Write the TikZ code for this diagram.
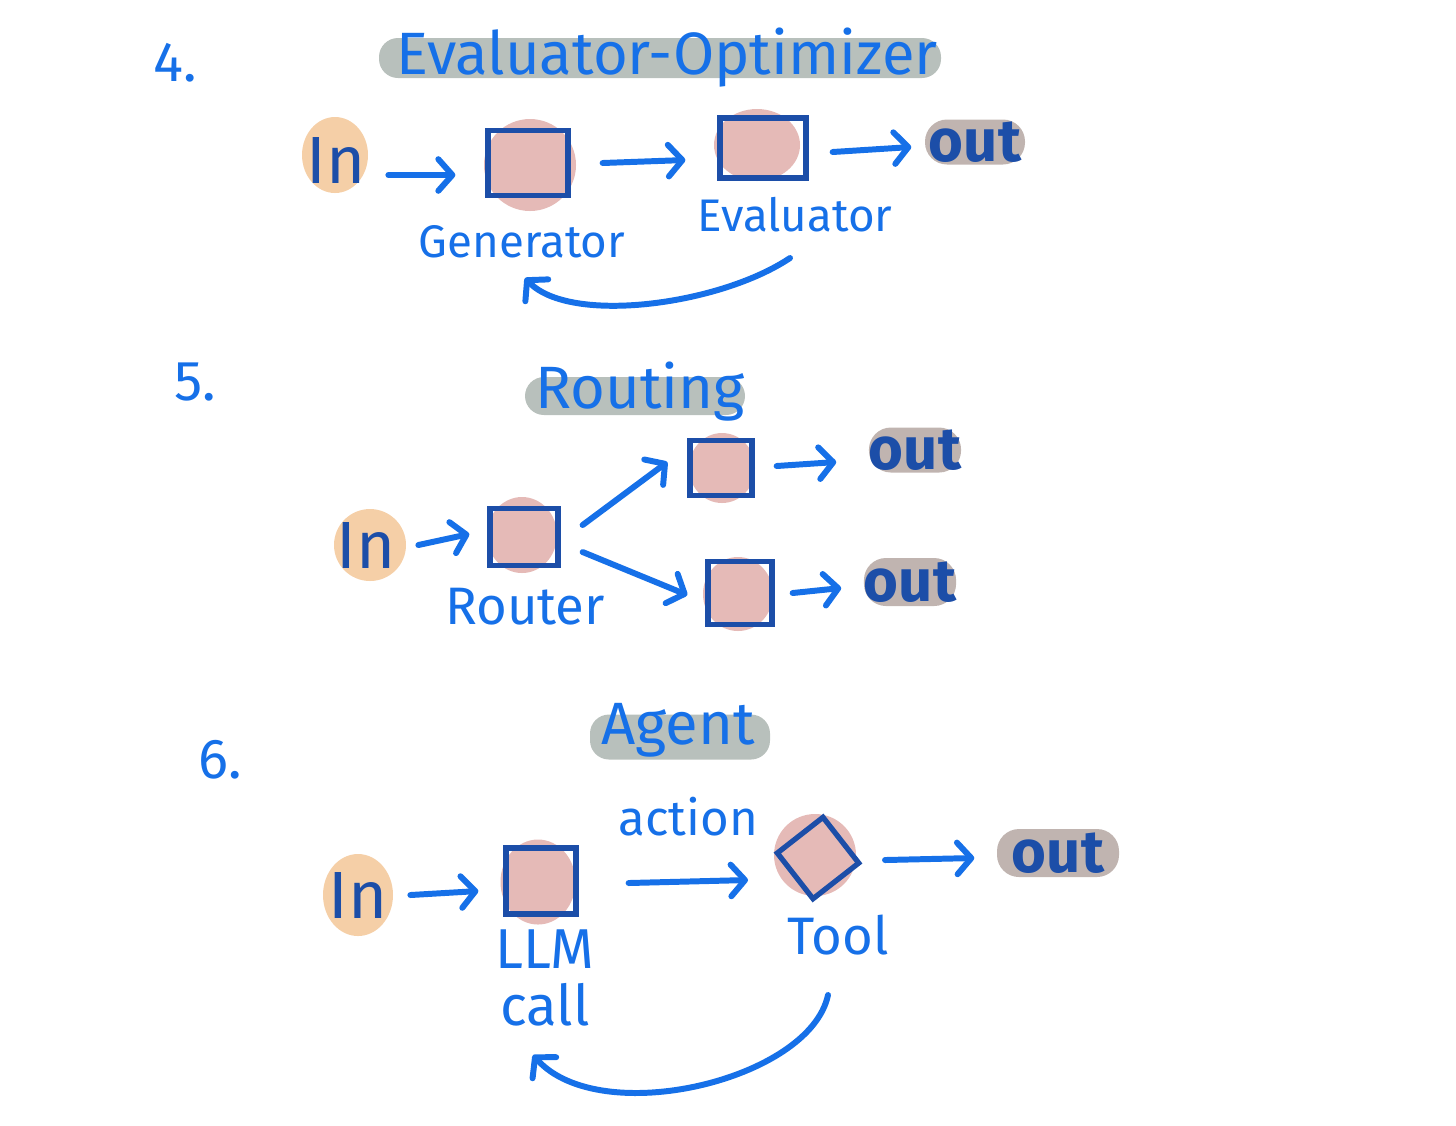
\documentclass[tikz,border=0pt]{standalone}
\usepackage{fontspec}
\setmainfont{Fira Sans}
\usepackage{tikz}
\usetikzlibrary{
  positioning,
  shapes.geometric,
  arrows.meta
}
\definecolor{penblue}{RGB}{22,112,232}
\definecolor{inkblue}{RGB}{28,78,168}
\definecolor{blobpink}{RGB}{229,186,183}
\definecolor{bloborange}{RGB}{245,207,167}
\definecolor{pillgray}{RGB}{184,192,188}
\definecolor{outgray}{RGB}{192,180,176}

\begin{document}
\begin{tikzpicture}[
    font=\sffamily,
    % Blob and box styles
    blob/.style={ellipse, fill=blobpink, draw=none, inner sep=0pt},
    inblob/.style={ellipse, fill=bloborange, draw=none, inner sep=0pt},
    sq/.style={rectangle, draw=inkblue, line width=1.5pt, inner sep=0pt},
    % Text styles
    title/.style={text=penblue, font=\fontsize{17}{20}\selectfont, inner sep=0pt},
    pill/.style={rectangle, fill=pillgray, rounded corners=1.9mm, inner sep=0pt},
    outpill/.style={rectangle, fill=outgray, rounded corners=2.2mm, text=inkblue,
        font=\fontsize{17}{20}\selectfont\bfseries, inner sep=0pt},
    intext/.style={text=inkblue, font=\fontsize{19}{22}\selectfont},
    lbl/.style={text=penblue, font=\fontsize{13}{16}\selectfont, align=center, inner sep=0pt},
    num/.style={text=penblue, font=\fontsize{16}{19}\selectfont},
    % Arrow styles
    arr/.style={-{Straight Barb[length=4pt,width=9pt,round]}, line width=1.7pt,
        line cap=round, draw=penblue}
]
\useasboundingbox (0,0) rectangle (14.56,-11.25);

% ==========================================
% 4. EVALUATOR-OPTIMIZER
% ==========================================
\node[num] (n4) at (1.75,-0.63) {4.};
\node[pill, minimum width=5.62cm, minimum height=0.4cm] (t4pill) at (6.6,-0.58) {};
\node[title] (t4) at (6.67,-0.58) {Evaluator-Optimizer};

\node[inblob, minimum width=0.66cm, minimum height=0.76cm] (in4blob) at (3.35,-1.55) {};
\node[intext] (in4) at (3.36,-1.6) {In};

\node[blob, minimum size=0.92cm] (genblob) at (5.3,-1.65) {};
\node[sq, minimum width=0.8cm, minimum height=0.65cm] (gen) at (5.28,-1.63) {};
\node[lbl] (genlbl) at (5.22,-2.42) {Generator};

\node[blob, minimum width=0.86cm, minimum height=0.72cm] (evablob) at (7.57,-1.45) {};
\node[sq, minimum width=0.86cm, minimum height=0.6cm] (eva) at (7.63,-1.48) {};
\node[lbl] (evalbl) at (7.95,-2.15) {Evaluator};

\node[outpill, minimum width=1.0cm, minimum height=0.45cm] (out4) at (9.75,-1.42) {out};

\coordinate (fb4s) at (7.9,-2.58);
\coordinate (fb4e) at (5.25,-2.78);

\draw[arr] ([xshift=3pt,yshift=-0.15cm]in4.east) -- ([xshift=-0.3cm,yshift=-0.12cm]gen.west);
\draw[arr] ([xshift=0.32cm]gen.east) -- ([xshift=-0.32cm,yshift=-0.12cm]eva.west);
\draw[arr] ([xshift=0.24cm,yshift=-0.04cm]eva.east) -- ([xshift=-0.13cm,yshift=-0.05cm]out4.west);
\draw[arr] (fb4s) .. controls (7.2,-3.05) and (5.7,-3.25) .. (fb4e);

% ==========================================
% 5. ROUTING
% ==========================================
\node[num] (n5) at (1.95,-3.82) {5.};
\node[pill, minimum width=2.2cm, minimum height=0.38cm] (t5pill) at (6.35,-3.96) {};
\node[title] (t5) at (6.4,-3.92) {Routing};

\node[inblob, minimum size=0.72cm] (in5blob) at (3.7,-5.45) {};
\node[intext] (in5) at (3.66,-5.45) {In};

\node[blob, minimum width=0.7cm, minimum height=0.76cm] (rtrblob) at (5.22,-5.35) {};
\node[sq, minimum width=0.68cm, minimum height=0.57cm] (rtr) at (5.24,-5.37) {};
\node[lbl, font=\fontsize{15}{18}\selectfont] (rtrlbl) at (5.25,-6.07) {Router};

\node[blob, minimum width=0.66cm, minimum height=0.7cm] (topblob) at (7.22,-4.68) {};
\node[sq, minimum width=0.62cm, minimum height=0.55cm] (top) at (7.21,-4.68) {};
\node[blob, minimum width=0.7cm, minimum height=0.74cm] (botblob) at (7.38,-5.94) {};
\node[sq, minimum width=0.64cm, minimum height=0.63cm] (bot) at (7.4,-5.93) {};

\node[outpill, minimum width=0.85cm, minimum height=0.45cm] (out5a) at (9.15,-4.5) {out};
\node[outpill, minimum width=0.85cm, minimum height=0.48cm] (out5b) at (9.1,-5.82) {out};

\draw[arr] ([xshift=3pt]in5.east) -- ([xshift=-0.18cm,yshift=0.03cm]rtr.west);
\draw[arr] ([xshift=0.22cm,yshift=0.12cm]rtr.east) -- ([xshift=-0.2cm,yshift=0.06cm]top.west);
\draw[arr] ([xshift=0.22cm,yshift=-0.15cm]rtr.east) -- ([xshift=-0.18cm,yshift=-0.02cm]bot.west);
\draw[arr] ([xshift=0.22cm,yshift=0.02cm]top.east) -- ([xshift=-0.32cm,yshift=-0.12cm]out5a.west);
\draw[arr] ([xshift=0.18cm]bot.east) -- ([xshift=-0.22cm,yshift=-0.06cm]out5b.west);

% ==========================================
% 6. AGENT
% ==========================================
\node[num] (n6) at (2.2,-7.6) {6.};
\node[pill, minimum width=1.8cm, minimum height=0.45cm] (t6pill) at (6.8,-7.37) {};
\node[title] (t6) at (6.78,-7.3) {Agent};

\node[inblob, minimum width=0.7cm, minimum height=0.82cm] (in6blob) at (3.58,-8.95) {};
\node[intext] (in6) at (3.58,-8.95) {In};

\node[blob, minimum width=0.75cm, minimum height=0.85cm] (llmblob) at (5.38,-8.82) {};
\node[sq, minimum width=0.7cm, minimum height=0.66cm] (llm) at (5.41,-8.81) {};
\node[lbl, font=\fontsize{16}{16}\selectfont] (llmlbl) at (5.45,-9.78) {LLM\\call};

\node[blob, minimum size=0.82cm] (toolblob) at (8.15,-8.55) {};
\node[sq, rotate=38, minimum size=0.58cm] (tool) at (8.18,-8.58) {};
\node[lbl, font=\fontsize{15}{18}\selectfont] (toollbl) at (8.38,-9.35) {Tool};

\node[outpill, minimum width=1.22cm, minimum height=0.48cm] (out6) at (10.58,-8.53) {out};

\coordinate (fb6s) at (8.28,-9.95);
\coordinate (fb6e) at (5.33,-10.55);

\draw[arr] ([xshift=3pt]in6.east) -- ([xshift=-0.25cm,yshift=-0.1cm]llm.west);
\draw[arr] ([xshift=0.5cm,yshift=-0.02cm]llm.east) -- node[lbl, font=\fontsize{14}{17}\selectfont, above=0.42cm] (act) {action}
    ([xshift=-0.7cm,yshift=-0.22cm]tool.center);
\draw[arr] ([xshift=0.67cm,yshift=-0.02cm]tool.center) -- ([xshift=-0.22cm,yshift=-0.05cm]out6.west);
\draw[arr] (fb6s) .. controls (8.1,-10.8) and (6.0,-11.3) .. (fb6e);

\end{tikzpicture}
\end{document}
